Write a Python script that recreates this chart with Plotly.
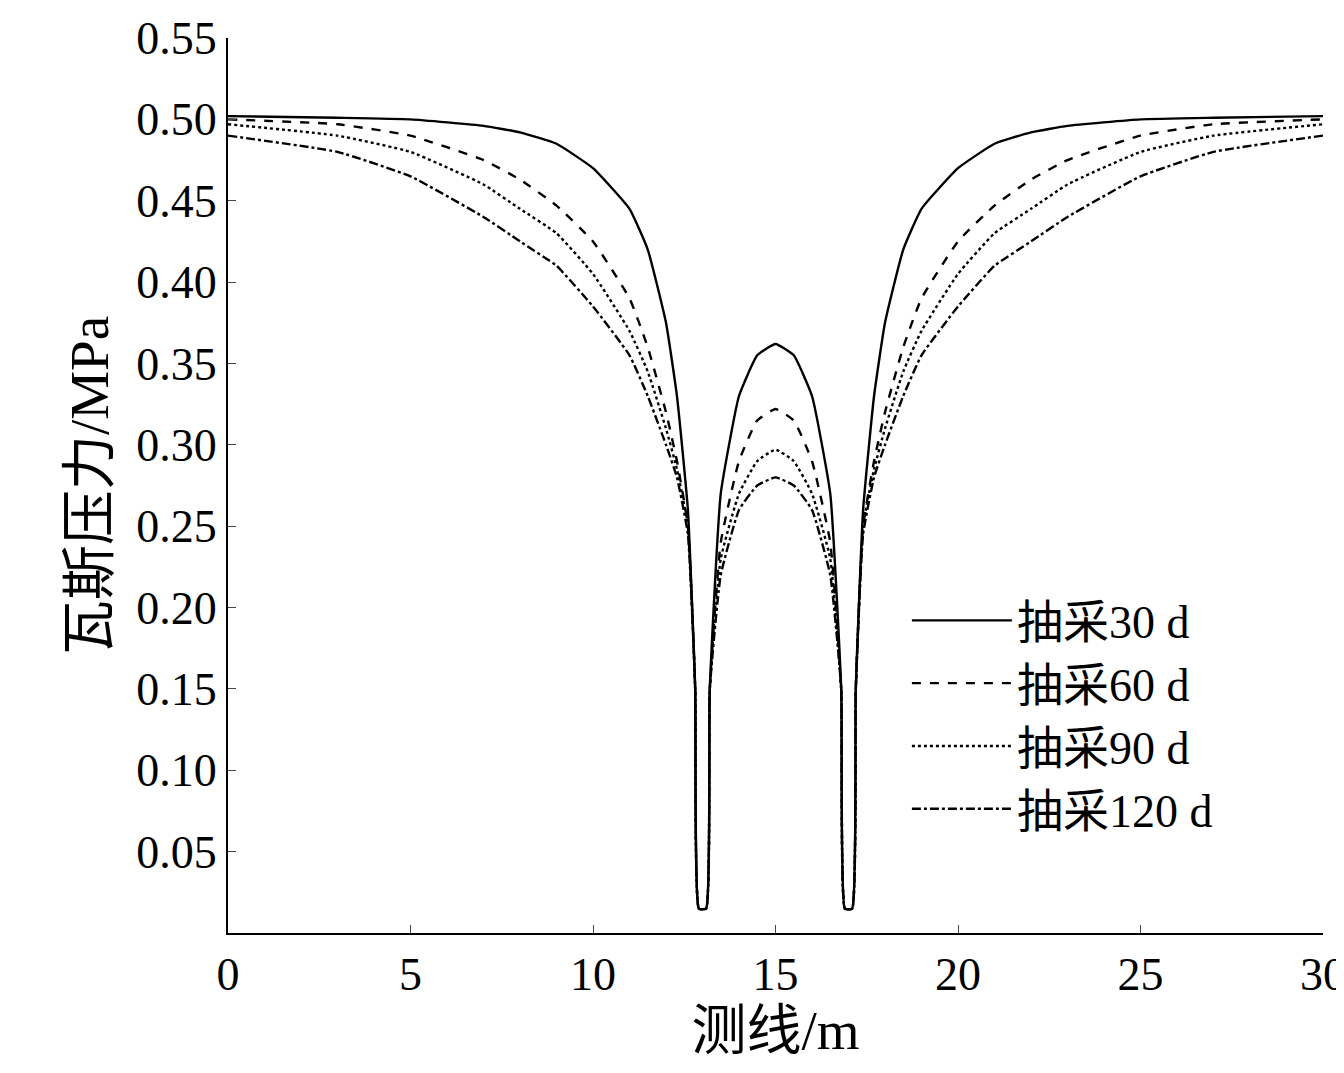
import plotly.graph_objects as go

x = [0, 3, 5, 7, 8, 9, 10, 11, 11.5, 12, 12.3, 12.6, 12.8, 12.9, 13.1, 13.2, 13.5, 14, 14.5, 15,
     15.5, 16, 16.5, 16.8, 16.9, 17.1, 17.2, 17.4, 17.7, 18, 18.5, 19, 20, 21, 22, 23, 25, 27, 30]

s30 = [0.502, 0.501, 0.500, 0.496, 0.492, 0.485, 0.470, 0.445, 0.420, 0.375, 0.330, 0.260, 0.150, 0.015, 0.015, 0.150, 0.270, 0.330, 0.355, 0.362,
       0.355, 0.330, 0.270, 0.150, 0.015, 0.015, 0.150, 0.260, 0.330, 0.375, 0.420, 0.445, 0.470, 0.485, 0.492, 0.496, 0.500, 0.501, 0.502]
s60 = [0.500, 0.497, 0.490, 0.475, 0.463, 0.447, 0.425, 0.390, 0.360, 0.320, 0.290, 0.250, 0.150, 0.015, 0.015, 0.150, 0.240, 0.290, 0.315, 0.322,
       0.315, 0.290, 0.240, 0.150, 0.015, 0.015, 0.150, 0.250, 0.290, 0.320, 0.360, 0.390, 0.425, 0.447, 0.463, 0.475, 0.490, 0.497, 0.500]
s90 = [0.497, 0.490, 0.480, 0.460, 0.445, 0.430, 0.405, 0.370, 0.345, 0.310, 0.285, 0.250, 0.150, 0.015, 0.015, 0.150, 0.230, 0.270, 0.290, 0.297,
       0.290, 0.270, 0.230, 0.150, 0.015, 0.015, 0.150, 0.250, 0.285, 0.310, 0.345, 0.370, 0.405, 0.430, 0.445, 0.460, 0.480, 0.490, 0.497]
s120 = [0.490, 0.480, 0.465, 0.440, 0.425, 0.410, 0.385, 0.355, 0.330, 0.300, 0.280, 0.245, 0.150, 0.015, 0.015, 0.150, 0.220, 0.260, 0.275, 0.280,
        0.275, 0.260, 0.220, 0.150, 0.015, 0.015, 0.150, 0.245, 0.280, 0.300, 0.330, 0.355, 0.385, 0.410, 0.425, 0.440, 0.465, 0.480, 0.490]

names = ["抽采30 d", "抽采60 d", "抽采90 d", "抽采120 d"]
dashes = ["solid", "dash", "dot", "dashdot"]
FONT = "Liberation Serif, Times New Roman, Noto Sans CJK SC"

fig = go.Figure()
for name, ys, d in zip(names, [s30, s60, s90, s120], dashes):
    fig.add_trace(go.Scatter(x=x, y=ys, mode="lines", name=name,
                             line=dict(color="black", width=2.4, dash=d, shape="spline", smoothing=0.4)))

fig.update_layout(
    width=1344, height=1073, paper_bgcolor="white", plot_bgcolor="white",
    margin=dict(l=220, r=29, t=30, b=148, autoexpand=False),
    font=dict(family=FONT, size=46, color="black"),
    showlegend=True,
    legend=dict(x=0.62, y=0.39, xanchor="left", yanchor="top", bgcolor="rgba(0,0,0,0)",
                font=dict(size=46), tracegroupgap=0, itemwidth=100),
    xaxis=dict(range=[0, 30], tickvals=[0, 5, 10, 15, 20, 25, 30], ticks="inside", ticklen=8,
               showline=True, linecolor="black", linewidth=2, showgrid=False, zeroline=False,
               automargin=False, title=dict(text="测线/m", standoff=5)),
    yaxis=dict(range=[0, 0.55], tickvals=[0.05 * i for i in range(1, 12)],
               ticktext=["%.2f" % (0.05 * i) for i in range(1, 12)], ticks="inside", ticklen=8,
               showline=True, linecolor="black", linewidth=2, showgrid=False, zeroline=False,
               automargin=False, title=dict(text="瓦斯压力/MPa", standoff=10)),
)
fig.write_html("out.html")
